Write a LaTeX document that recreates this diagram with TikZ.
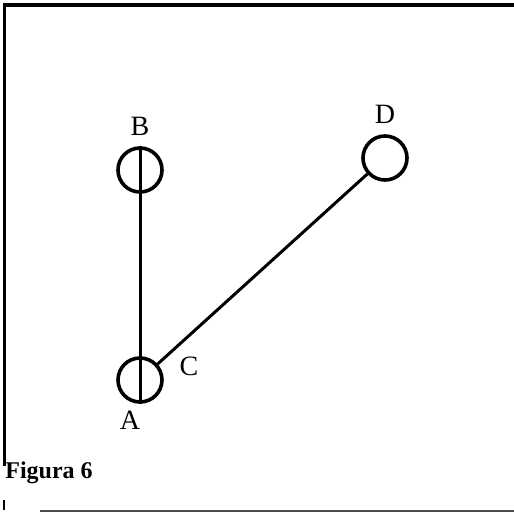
\documentclass[tikz,border=0pt]{standalone}
\usepackage{fontspec}
\setmainfont{Liberation Serif}
\usepackage{tikz}
\usetikzlibrary{positioning}
\tikzset{
  pin/.style={circle,draw,line width=1.8pt,minimum size=22pt,inner sep=0pt},
  lab/.style={font=\fontsize{14}{16}\selectfont},
  bar/.style={line width=1.5pt}
}

\begin{document}
\begin{tikzpicture}[x=0.5pt,y=-0.5pt]
\useasboundingbox (0,0) rectangle (514,513);
% frame
\draw[line width=2pt] (3,5) -- (514,5);
\draw[line width=1.5pt] (4,5) -- (4,466);
\draw[line width=1pt] (4,500) -- (4,510);
\draw[line width=1pt,black!70] (40,511) -- (514,511);
% points
\foreach \n/\xx/\yy in {A/140/380,B/140/170,D/385/158}{
  \node[pin] (p\n) at (\xx,\yy) {};
}
\node[lab,above=2pt of pB] (lB) {B};
\node[lab,above=2pt of pD] (lD) {D};
\node[lab] (lA) at (130,420) {A};
\node[lab] (lC) at (189,366) {C};
% bars
\draw[bar] (pB.north) -- (pA.south);
\draw[bar] (pA) -- (pD);
\node[font=\fontsize{12}{14}\selectfont\bfseries,anchor=base west,inner sep=0pt] (cap) at (5,478) {Figura 6};
\end{tikzpicture}
\end{document}
